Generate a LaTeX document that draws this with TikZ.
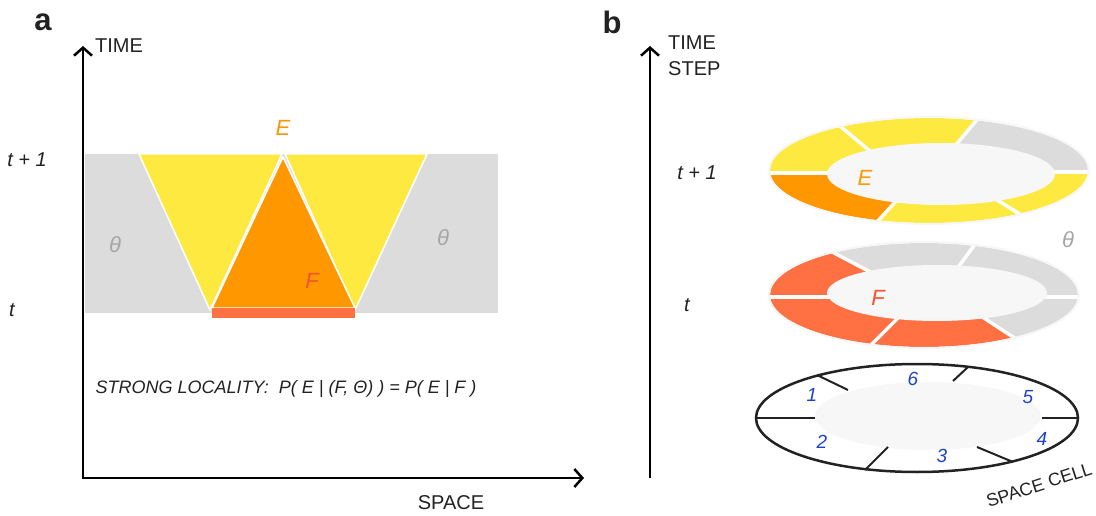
\documentclass[tikz,border=0pt]{standalone}
\usepackage{fontspec}
\setmainfont{Liberation Sans}
\usetikzlibrary{arrows.meta}
\definecolor{ygold}{HTML}{FDE93F}
\definecolor{orng}{HTML}{FF9800}
\definecolor{redo}{HTML}{FF7043}
\definecolor{redF}{HTML}{F2542D}
\definecolor{lgray}{HTML}{DCDCDC}
\definecolor{innerc}{HTML}{F7F7F7}
\definecolor{thgray}{HTML}{A6A6A6}
\definecolor{numblue}{HTML}{1E44C4}
\definecolor{txt}{HTML}{222222}
\begin{document}
\begin{tikzpicture}[x=1pt,y=-1pt,
  axisline/.style={line width=2.5pt,{Straight Barb[length=8pt,width=18pt,line width=2.5pt]}-{Straight Barb[length=8pt,width=18pt,line width=2.5pt]}},
  axisup/.style={line width=2.5pt,-{Straight Barb[length=8pt,width=18pt,line width=2.5pt]}},
  lab/.style={font=\fontsize{20}{26}\selectfont, text=txt, inner sep=0pt},
  itl/.style={font=\fontsize{20}{24}\selectfont\itshape, text=txt, inner sep=0pt},
  big/.style={font=\fontsize{31}{34}\selectfont\bfseries, text=txt, inner sep=0pt},
  letE/.style={font=\fontsize{22}{26}\selectfont\itshape, text=orng, inner sep=0pt},
  letF/.style={font=\fontsize{22}{26}\selectfont\itshape, text=redF, inner sep=0pt},
  theta/.style={font=\fontsize{22}{26}\selectfont\itshape, text=thgray, inner sep=0pt},
  num/.style={font=\fontsize{19}{23}\selectfont\itshape, text=numblue, inner sep=0pt},
  tri/.style={draw=white, line width=1.5pt, line join=round},
  gap/.style={draw=white, line width=3.5pt},
  tick/.style={line width=2pt, draw=txt}
]
\useasboundingbox (0,0) rectangle (1096,516);

% ---------------- panel a ----------------
\node[big] (la) at (43,22) {a};
\fill[lgray] (85,154) rectangle (498,313);
\filldraw[fill=ygold, tri] (139,154) -- (282,154) -- (210,310) -- cycle;
\filldraw[fill=ygold, tri] (285,154) -- (427,154) -- (355,310) -- cycle;
\filldraw[fill=orng, tri] (283,157) -- (355,308) -- (212,308) -- cycle;
\fill[redo] (212,308) rectangle (355,318);

\coordinate (aY) at (83,46);
\coordinate (aO) at (83,478);
\coordinate (aX) at (584,478);
\draw[axisline, draw=black] (aY) -- (aO) -- (aX);

\node[lab] (timeA) at (119,46) {TIME};
\node[lab] (spaceA) at (451,503) {SPACE};
\node[itl] (t1A) at (27,160) {t + 1};
\node[itl] (tA) at (12,310) {t};
\node[letE] (EA) at (283,128) {E};
\node[letF] (FA) at (312,281) {F};
\node[theta] (thA1) at (115,245) {θ};
\node[theta] (thA2) at (443,238) {θ};
\node[font=\fontsize{18}{21}\selectfont\itshape, text=txt, inner sep=0pt] (formula) at (286,389)
  {STRONG LOCALITY:\ \ P( E | (F, Θ) ) = P( E | F )};

% ---------------- panel b ----------------
\node[big] (lb) at (612,22) {b};
\coordinate (bO) at (650,478);
\coordinate (bY) at (650,46);
\draw[axisup, draw=black] (bO) -- (bY);
\node[lab, anchor=west, align=left] (timestep) at (668,56) {TIME\\STEP};
\node[itl] (t1B) at (697,173) {t + 1};
\node[itl] (tB) at (687,305) {t};

% top ring (t+1)
\begin{scope}
\clip (929,170.5) ellipse [x radius=159, y radius=52.5];
\coordinate (C) at (941,174);
\fill[ygold] (C) -- (850,173) -- (650,173) -- (650,40) -- (752,53) -- (882,161) -- cycle;
\fill[ygold] (C) -- (882,161) -- (752,53) -- (1025,62) -- (955,146) -- cycle;
\fill[lgray] (C) -- (955,146) -- (1025,62) -- (1200,62) -- (1200,172) -- (1030,172) -- cycle;
\fill[ygold] (C) -- (1030,172) -- (1200,172) -- (1200,278) -- (1123,278) -- (976,187) -- cycle;
\fill[ygold] (C) -- (976,187) -- (1123,278) -- (777,332) -- (917,178) -- cycle;
\fill[orng] (C) -- (917,178) -- (777,332) -- (650,332) -- (650,173) -- (850,173) -- cycle;
\draw[gap] (850,173) -- (650,173);
\draw[gap] (882,161) -- (752,53);
\draw[gap] (955,146) -- (1025,62);
\draw[gap] (1030,172) -- (1200,172);
\draw[gap] (976,187) -- (1123,278);
\draw[gap] (917,178) -- (777,332);
\end{scope}
\draw[innerc, line width=2pt] (929,170.5) ellipse [x radius=160, y radius=53.5];
\fill[innerc] (941,174) ellipse [x radius=114, y radius=31];

% middle ring (t)
\begin{scope}
\clip (924,295) ellipse [x radius=154, y radius=52];
\coordinate (D) at (937,293);
\fill[redo] (D) -- (850,297) -- (650,297) -- (650,180) -- (743,205) -- (895,285) -- cycle;
\fill[lgray] (D) -- (895,285) -- (743,205) -- (743,150) -- (1028,150) -- (1028,172) -- (951,277) -- cycle;
\fill[lgray] (D) -- (951,277) -- (1028,172) -- (1200,172) -- (1200,297) -- (1020,297) -- cycle;
\fill[lgray] (D) -- (1020,297) -- (1200,297) -- (1200,412) -- (1128,412) -- (967,307) -- cycle;
\fill[redo] (D) -- (967,307) -- (1128,412) -- (773,443) -- (923,293) -- cycle;
\fill[redo] (D) -- (923,293) -- (773,443) -- (650,443) -- (650,297) -- (850,297) -- cycle;
\draw[gap] (850,297) -- (650,297);
\draw[gap] (895,285) -- (743,205);
\draw[gap] (951,277) -- (1028,172);
\draw[gap] (1020,297) -- (1200,297);
\draw[gap] (967,307) -- (1128,412);
\draw[gap] (923,293) -- (773,443);
\end{scope}
\draw[innerc, line width=2pt] (924,295) ellipse [x radius=155, y radius=53];
\fill[innerc] (937,293) ellipse [x radius=110, y radius=28];

\node[letE] (EB) at (865,178) {E};
\node[letF] (FB) at (878,298) {F};
\node[theta] (thB) at (1068,240) {θ};

% space cell ring
\fill[innerc] (928,416) ellipse [x radius=113, y radius=34];
\draw[tick] (755,418) -- (815,418);
\draw[tick] (1042,418) -- (1078,418);
\draw[tick] (817,375) -- (848,390);
\draw[tick] (968,367) -- (953,381);
\draw[tick] (865,470) -- (888,447);
\draw[tick] (1013,462) -- (977,447);
\draw[line width=2.5pt, draw=txt] (917,418) ellipse [x radius=161, y radius=54];
\node[num] (n1) at (812,395) {1};
\node[num] (n6) at (913,379) {6};
\node[num] (n5) at (1028,397) {5};
\node[num] (n4) at (1042,439) {4};
\node[num] (n3) at (942,456) {3};
\node[num] (n2) at (822,442) {2};
\node[font=\fontsize{18}{22}\selectfont, text=txt, inner sep=0pt, rotate=18] (spacecell) at (1039,485) {SPACE CELL};
\end{tikzpicture}
\end{document}
